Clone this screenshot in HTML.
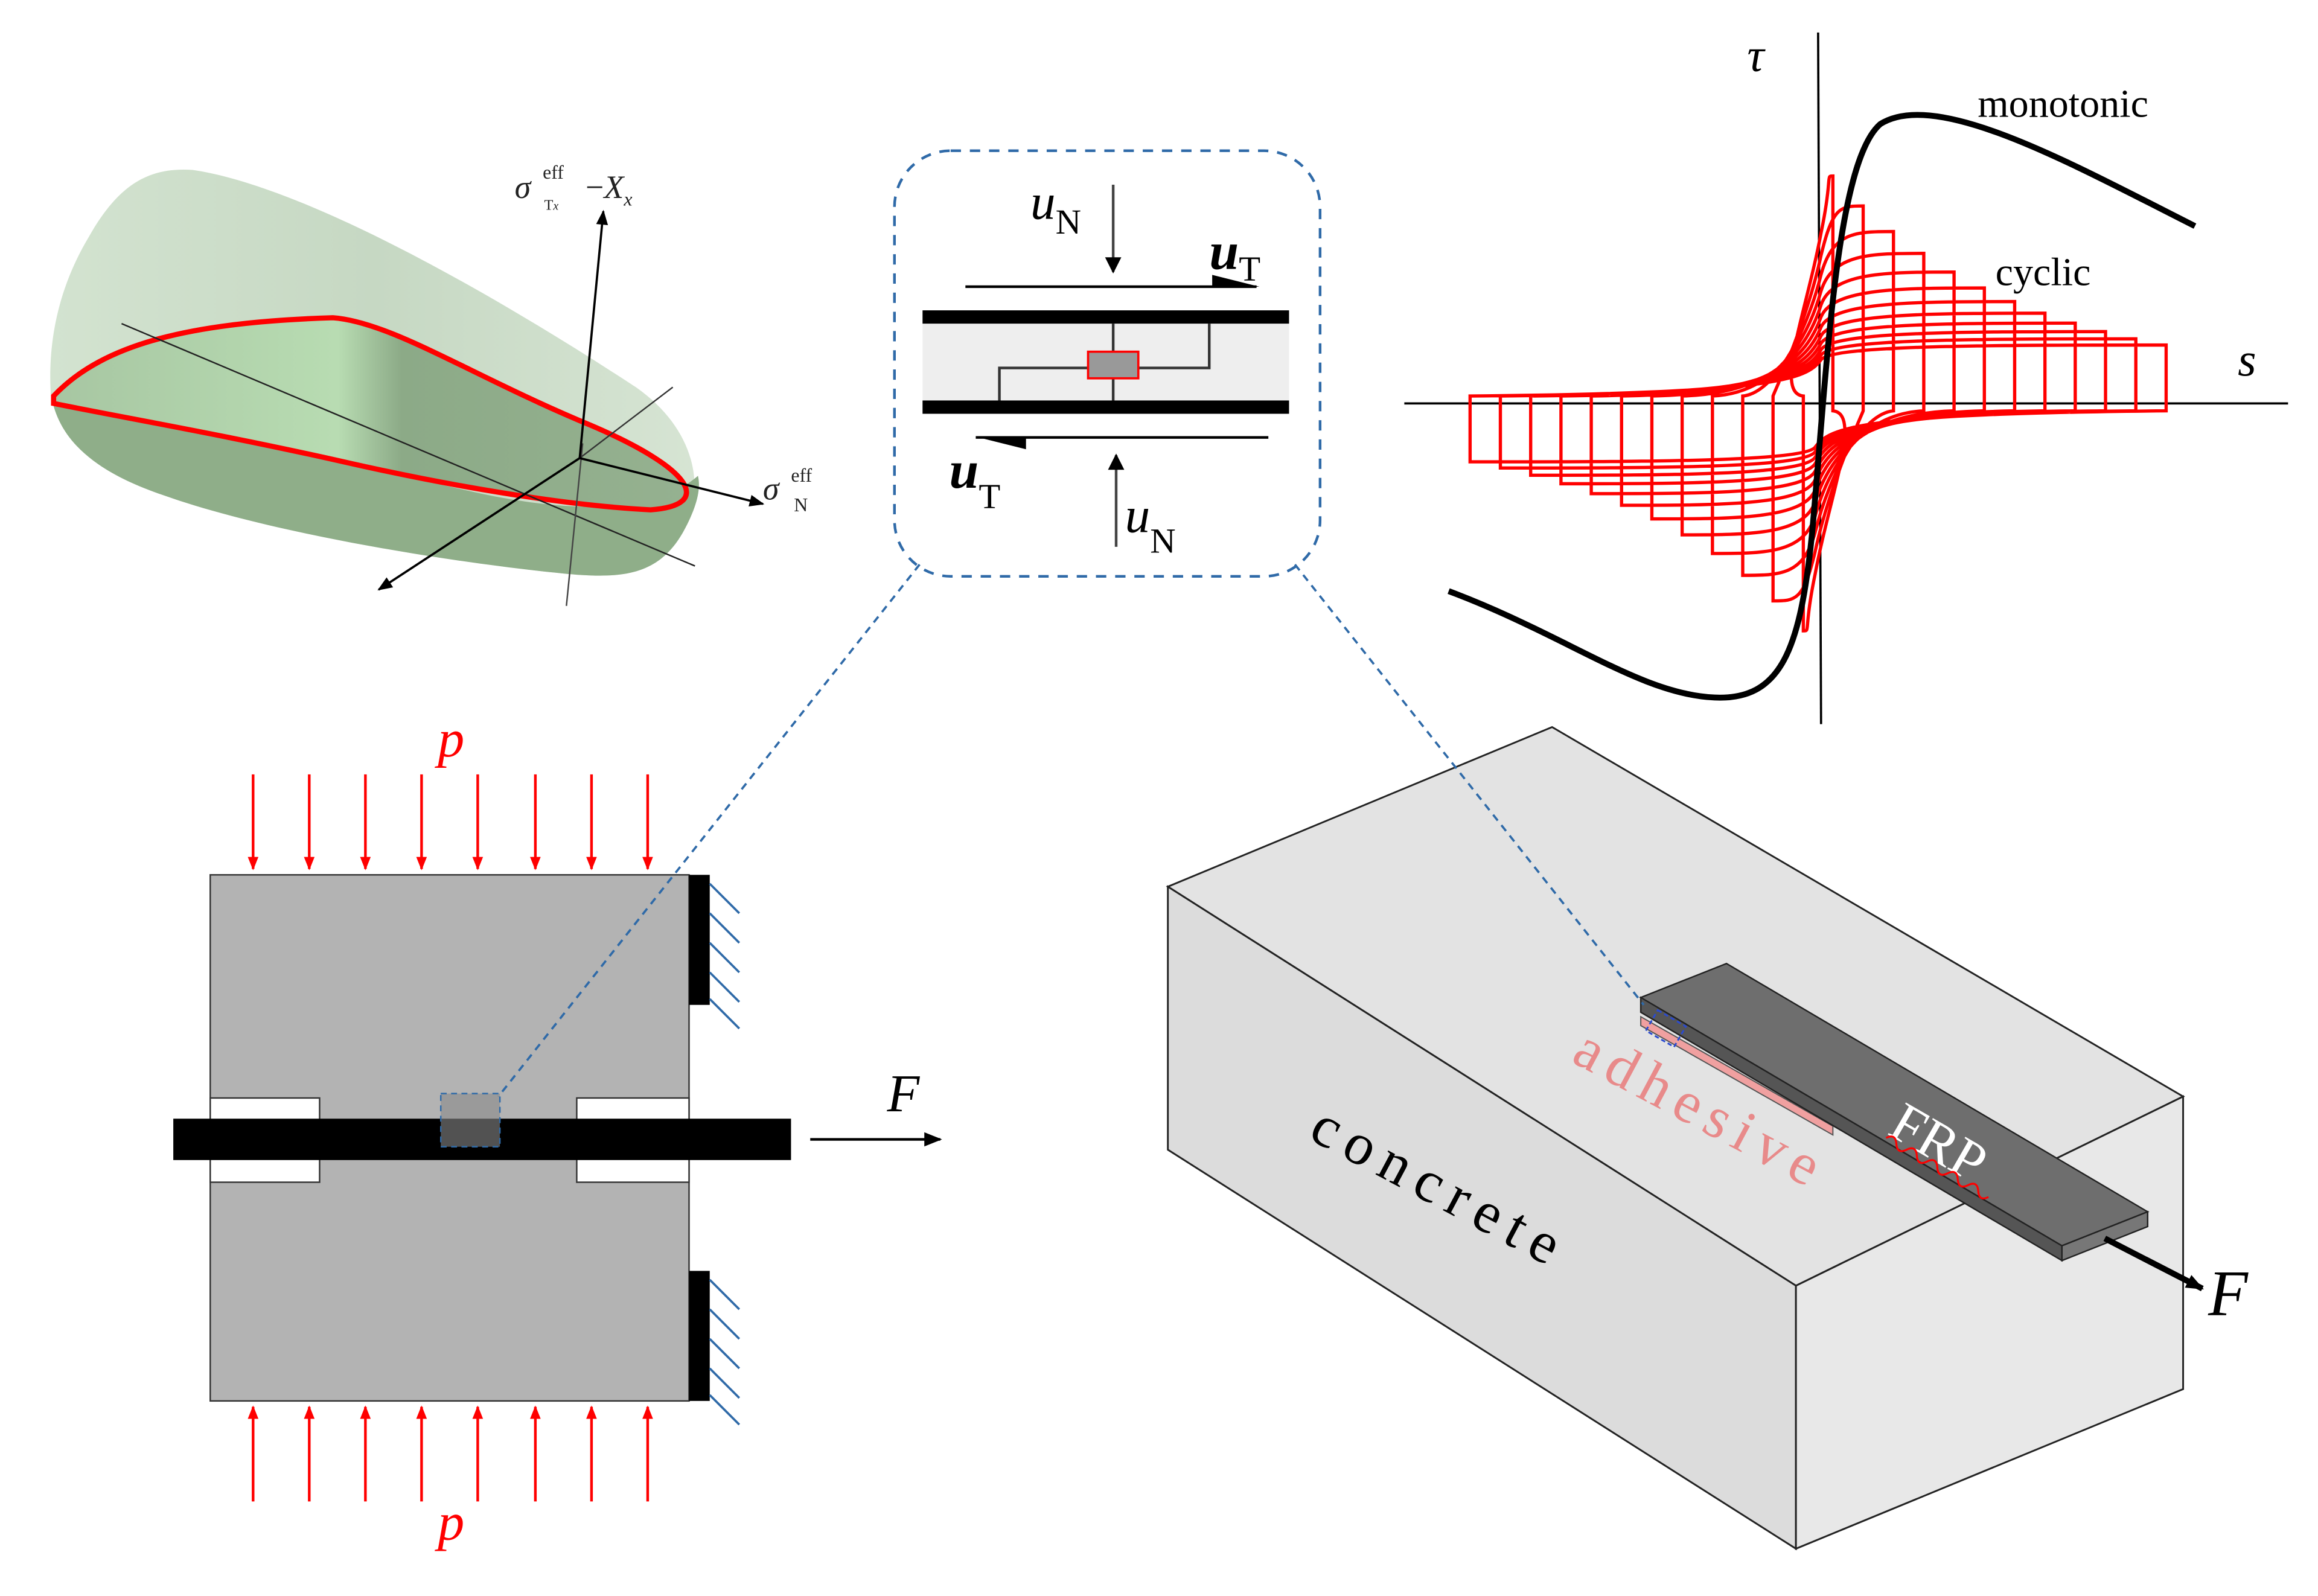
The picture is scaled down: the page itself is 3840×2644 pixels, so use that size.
<!DOCTYPE html>
<html><head><meta charset="utf-8"><style>html,body{margin:0;padding:0;background:#fff}svg{display:block}</style></head>
<body>
<svg xmlns="http://www.w3.org/2000/svg" width="3840" height="2644" viewBox="0 0 1568 1080" font-family="Liberation Serif, serif">
<defs>
<marker id="ah" viewBox="0 0 10 10" refX="9" refY="5" markerWidth="12" markerHeight="10" orient="auto" markerUnits="userSpaceOnUse"><path d="M0,1 L10,5 L0,9 z" fill="#000"/></marker>
<marker id="ahn" viewBox="0 0 10 10" refX="9" refY="5" markerWidth="16" markerHeight="11" orient="auto" markerUnits="userSpaceOnUse"><path d="M0,0 L10,5 L0,10 z" fill="#000"/></marker>
<marker id="ahb" viewBox="0 0 10 10" refX="9" refY="5" markerWidth="16" markerHeight="12" orient="auto" markerUnits="userSpaceOnUse"><path d="M0,1 L10,5 L0,9 z" fill="#000"/></marker>
<marker id="ahr" viewBox="0 0 10 10" refX="9" refY="5" markerWidth="10" markerHeight="9" orient="auto" markerUnits="userSpaceOnUse"><path d="M0,1 L10,5 L0,9 z" fill="#f00"/></marker>
<linearGradient id="g1" x1="0" y1="0" x2="1" y2="0"><stop offset="0" stop-color="#d3e3d0"/><stop offset="0.5" stop-color="#c6d8c3"/><stop offset="1" stop-color="#d6e4d3"/></linearGradient>
<linearGradient id="g2" x1="0" y1="0" x2="1" y2="0"><stop offset="0" stop-color="#a7c6a2"/><stop offset="0.45" stop-color="#b8dcb2"/><stop offset="0.55" stop-color="#8caa87"/><stop offset="1" stop-color="#95b190"/></linearGradient>
</defs>

<!-- yield surface -->
<path d="M60,160 C80,125 100,113 130,115 C200,125 320,190 430,262 C470,290 478,330 462,360 C445,390 420,392 380,388 C300,380 180,360 110,335 C60,318 38,295 34,265 C32,225 42,190 60,160 Z" fill="url(#g1)"/>
<path d="M34,265 C38,295 60,318 110,335 C180,360 300,380 380,388 C420,392 445,390 462,360 C472,342 474,330 472,322 C440,350 380,345 330,335 C250,318 130,285 36,272 Z" fill="#8fae89"/>
<path d="M36,268 C70,232 130,218 225,215 C265,218 320,255 400,288 C470,318 482,342 440,345 C380,342 300,328 230,312 C150,294 80,282 36,273 Z" fill="url(#g2)"/>
<path d="M36,268 C70,232 130,218 225,215 C265,218 320,255 400,288 C470,318 482,342 440,345 C380,342 300,328 230,312 C150,294 80,282 36,273 Z" fill="none" stroke="#f00" stroke-width="3.5"/>
<line x1="82" y1="219" x2="470" y2="383" stroke="#222" stroke-width="1"/>
<line x1="383" y1="410" x2="394" y2="300" stroke="#444" stroke-width="1"/>
<line x1="455" y1="262" x2="392" y2="310" stroke="#333" stroke-width="1"/>
<line x1="392" y1="310" x2="408" y2="143" stroke="#000" stroke-width="1.5" marker-end="url(#ah)"/>
<line x1="392" y1="310" x2="516" y2="341" stroke="#000" stroke-width="1.5" marker-end="url(#ah)"/>
<line x1="392" y1="310" x2="256" y2="399" stroke="#000" stroke-width="1.5" marker-end="url(#ah)"/>
<text x="348" y="134" font-size="22" font-style="italic" fill="#222">σ</text>
<text x="367" y="121" font-size="13" fill="#222">eff</text>
<text x="368" y="142" font-size="10" fill="#222">T<tspan font-size="8" font-style="italic">x</tspan></text>
<text x="396" y="134" font-size="22" fill="#222">−<tspan font-style="italic">X</tspan><tspan font-size="13" font-style="italic" dy="5">x</tspan></text>
<text x="516" y="338" font-size="22" font-style="italic" fill="#222">σ</text>
<text x="535" y="326" font-size="13" fill="#222">eff</text>
<text x="537" y="346" font-size="13" fill="#222">N</text>

<!-- middle box -->
<rect x="605" y="102" width="288" height="288" rx="38" fill="none" stroke="#2f6aa8" stroke-width="1.8" stroke-dasharray="7,6"/>
<rect x="624" y="219" width="248" height="52" fill="#eee"/>
<rect x="624" y="210" width="248" height="9" fill="#000"/>
<rect x="624" y="271" width="248" height="9" fill="#000"/>
<path d="M753,219 V271 M676,271 V249 H736 M770,249 H818 V219" fill="none" stroke="#333" stroke-width="1.8"/>
<rect x="736" y="238" width="34" height="18" fill="#999" stroke="#f00" stroke-width="1.5"/>
<line x1="753" y1="125" x2="753" y2="184" stroke="#444" stroke-width="1.8" marker-end="url(#ahn)"/>
<line x1="755" y1="370" x2="755" y="0" y2="308" stroke="#444" stroke-width="1.8" marker-end="url(#ahn)"/>
<line x1="653" y1="194" x2="850" y2="194" stroke="#000" stroke-width="1.8"/>
<path d="M820,186 L852,194 L820,194 z" fill="#000"/>
<line x1="858" y1="296" x2="660" y2="296" stroke="#000" stroke-width="1.8"/>
<path d="M694,296 L662,296 L694,304 z" fill="#000"/>
<text x="697" y="148" font-size="34" font-style="italic">u<tspan font-size="24" font-style="normal" dy="10">N</tspan></text>
<text x="818" y="182" font-size="36" font-style="italic" font-weight="bold">u<tspan font-size="24" font-style="normal" font-weight="normal" dy="8">T</tspan></text>
<text x="642" y="330" font-size="36" font-style="italic" font-weight="bold">u<tspan font-size="24" font-style="normal" font-weight="normal" dy="14">T</tspan></text>
<text x="761" y="360" font-size="34" font-style="italic">u<tspan font-size="24" font-style="normal" dy="14">N</tspan></text>

<!-- tau-s plot -->
<line x1="1230" y1="22" x2="1232" y2="490" stroke="#000" stroke-width="1.5"/>
<line x1="950" y1="273" x2="1548" y2="273" stroke="#000" stroke-width="1.5"/>
<g id="cyc" fill="none" stroke="#f00" stroke-width="2.2"></g>
<path d="M980,400 C1060,430 1110,470 1160,472 C1205,474 1218,440 1226,360 C1236,250 1242,110 1272,84 C1310,60 1400,110 1485,153" fill="none" stroke="#000" stroke-width="4"/>
<text x="1182" y="48" font-size="32" font-style="italic">τ</text>
<text x="1338" y="79" font-size="27">monotonic</text>
<text x="1350" y="193" font-size="27">cyclic</text>
<text x="1514" y="254" font-size="32" font-style="italic">s</text>

<!-- bottom left -->
<rect x="142" y="592" width="324" height="356" fill="#b3b3b3" stroke="#333" stroke-width="1"/>
<rect x="142" y="743" width="74" height="57" fill="#fff" stroke="#333" stroke-width="1"/>
<rect x="390" y="743" width="76" height="57" fill="#fff" stroke="#333" stroke-width="1"/>
<rect x="117" y="757" width="418" height="28" fill="#000"/>
<rect x="298" y="740" width="40" height="36" fill="#888" fill-opacity="0.6" stroke="#2f6aa8" stroke-dasharray="4,3"/>
<rect x="466" y="592" width="14" height="88" fill="#000"/>
<rect x="466" y="860" width="14" height="88" fill="#000"/>
<g stroke="#2f6aa8" stroke-width="1.5">
<line x1="480" y1="598" x2="500" y2="618"/><line x1="480" y1="618" x2="500" y2="638"/><line x1="480" y1="638" x2="500" y2="658"/><line x1="480" y1="658" x2="500" y2="678"/><line x1="480" y1="676" x2="500" y2="696"/>
<line x1="480" y1="866" x2="500" y2="886"/><line x1="480" y1="886" x2="500" y2="906"/><line x1="480" y1="906" x2="500" y2="926"/><line x1="480" y1="926" x2="500" y2="946"/><line x1="480" y1="944" x2="500" y2="964"/>
</g>
<line x1="548" y1="771" x2="636" y2="771" stroke="#000" stroke-width="1.8" marker-end="url(#ahb)"/>
<text x="600" y="752" font-size="36" font-style="italic">F</text>
<g stroke="#f00" stroke-width="1.8">
<line x1="171" y1="524" x2="171" y2="588" marker-end="url(#ahr)"/><line x1="209" y1="524" x2="209" y2="588" marker-end="url(#ahr)"/><line x1="247" y1="524" x2="247" y2="588" marker-end="url(#ahr)"/><line x1="285" y1="524" x2="285" y2="588" marker-end="url(#ahr)"/><line x1="323" y1="524" x2="323" y2="588" marker-end="url(#ahr)"/><line x1="362" y1="524" x2="362" y2="588" marker-end="url(#ahr)"/><line x1="400" y1="524" x2="400" y2="588" marker-end="url(#ahr)"/><line x1="438" y1="524" x2="438" y2="588" marker-end="url(#ahr)"/>
<line x1="171" y1="1016" x2="171" y2="952" marker-end="url(#ahr)"/><line x1="209" y1="1016" x2="209" y2="952" marker-end="url(#ahr)"/><line x1="247" y1="1016" x2="247" y2="952" marker-end="url(#ahr)"/><line x1="285" y1="1016" x2="285" y2="952" marker-end="url(#ahr)"/><line x1="323" y1="1016" x2="323" y2="952" marker-end="url(#ahr)"/><line x1="362" y1="1016" x2="362" y2="952" marker-end="url(#ahr)"/><line x1="400" y1="1016" x2="400" y2="952" marker-end="url(#ahr)"/><line x1="438" y1="1016" x2="438" y2="952" marker-end="url(#ahr)"/>
</g>
<text x="296" y="512" font-size="36" font-style="italic" fill="#f00">p</text>
<text x="296" y="1042" font-size="36" font-style="italic" fill="#f00">p</text>

<!-- concrete block -->
<polygon points="790,600 1050,492 1477,742 1215,870" fill="#e3e3e3" stroke="#222" stroke-width="1.2"/>
<polygon points="790,600 1215,870 1215,1048 790,778" fill="#dcdcdc" stroke="#222" stroke-width="1.2"/>
<polygon points="1215,870 1477,742 1477,940 1215,1048" fill="#e8e8e8" stroke="#222" stroke-width="1.2"/>
<polygon points="1110,688 1240,762 1240,768 1110,694" fill="#f0a0a0" stroke="#555" stroke-width="0.8"/>
<polygon points="1110,675 1168,652 1453,820 1395,843" fill="#6e6e6e" stroke="#222" stroke-width="1"/>
<polygon points="1110,675 1395,843 1395,853 1110,685" fill="#555" stroke="#222" stroke-width="1"/>
<polygon points="1395,843 1453,820 1453,830 1395,853" fill="#777" stroke="#222" stroke-width="1"/>
<rect x="1116" y="688" width="22" height="16" fill="none" stroke="#2a4ad0" stroke-width="1.2" stroke-dasharray="3,2" transform="rotate(30 1127 696)"/>
<line x1="1424" y1="838" x2="1490" y2="872" stroke="#000" stroke-width="4" marker-end="url(#ahb)"/>
<text x="1494" y="890" font-size="44" font-style="italic">F</text>
<text x="0" y="0" font-size="40" fill="#e88a8a" letter-spacing="6" transform="translate(1062,718) rotate(28)">adhesive</text>
<text x="0" y="0" font-size="40" fill="#000" letter-spacing="7" transform="translate(884,770) rotate(28)">concrete</text>
<text x="0" y="0" font-size="38" fill="#fff" transform="translate(1276,767) rotate(30)">FRP</text>
<path d="M1276,770 q4,-6 8,0 t8,0 t8,0 t8,0 t8,0 t8,0 t8,0 t8,0 t8,0 t8,0" fill="none" stroke="#f00" stroke-width="1.3" transform="rotate(30 1276 770)"/>

<!-- dashed connectors on top -->
<line x1="622" y1="382" x2="337" y2="742" stroke="#2f6aa8" stroke-width="1.5" stroke-dasharray="5,4"/>
<line x1="876" y1="382" x2="1112" y2="680" stroke="#2f6aa8" stroke-width="1.5" stroke-dasharray="5,4"/>

<script>
(function(){var g=document.getElementById('cyc');var ns='http://www.w3.org/2000/svg';var d='';
for(var k=0;k<12;k++){var a=10+k*20.5;var f=15+150*Math.exp(-a/130);var L=1230-a,R=1230+a;
d+='M'+L+',268 C1200,266 1222,'+(273-f*0.4)+' 1232,'+(273-f*0.75)+' C1240,'+(273-f)+' '+(R-a*0.5)+','+(273-f)+' '+R+','+(273-f)+' L'+R+',278 C1260,280 1238,'+(273+f*0.4)+' 1228,'+(273+f*0.75)+' C1220,'+(273+f)+' '+(L+a*0.5)+','+(273+f)+' '+L+','+(273+f)+' Z ';}
var p=document.createElementNS(ns,'path');p.setAttribute('d',d);g.appendChild(p);})();
</script>
</svg>
</body></html>
